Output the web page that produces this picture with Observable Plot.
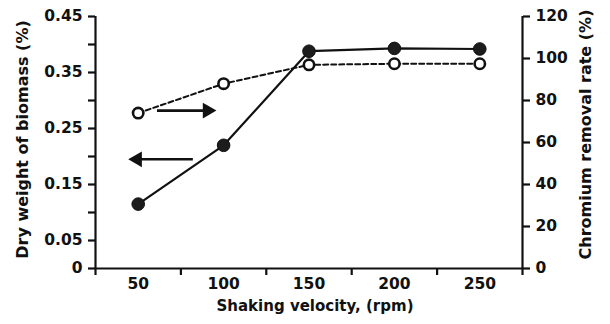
<!DOCTYPE html>
<html>
<head>
<meta charset="utf-8">
<script src="https://cdn.jsdelivr.net/npm/d3@7"></script>
<script src="https://cdn.jsdelivr.net/npm/@observablehq/plot@0.6"></script>
<style>
  html, body { margin: 0; padding: 0; background: #fff; }
</style>
</head>
<body>
<div id="chart"></div>
<script>
// Data
const rpm = [50, 100, 150, 200, 250];
const dryWeight = [0.115, 0.22, 0.388, 0.393, 0.392];      // left axis (%)
const removalRate = [74, 88, 97, 97.5, 97.5];               // right axis (%)

const xLabelTicks = [50, 100, 150, 200, 250];
const xMarkTicks = [25, 75, 125, 175, 225, 275];
const leftTicks = [0, 0.05, 0.1, 0.15, 0.2, 0.25, 0.3, 0.35, 0.4, 0.45];
const leftLabels = ["0", "0.05", "", "0.15", "", "0.25", "", "0.35", "", "0.45"];
const rightTicks = [0, 20, 40, 60, 80, 100, 120];

// Annotation arrows (data units: rpm, left-axis value)
const arrowRight = {x1: 61, x2: 90, head: 90.5, y: 0.282};
const arrowLeft = {x1: 82, x2: 49, head: 49.5, y: 0.195};

const k = 0.45 / 120; // right-axis value -> left-axis scale
const rows = rpm.map((r, i) => ({rpm: r, dry: dryWeight[i], rate: removalRate[i] * k}));
const leftLabelMap = new Map(leftTicks.map((t, i) => [t, leftLabels[i]]));

const font = "'DejaVu Sans', sans-serif";

const chart = Plot.plot({
  width: 610,
  height: 324,
  marginLeft: 95,
  marginRight: 88,
  marginTop: 16,
  marginBottom: 56,
  style: {fontFamily: font, fontWeight: "bold", fontSize: "15.5px", color: "#111", background: "#fff"},
  x: {domain: [25, 275], axis: null},
  y: {domain: [0, 0.45], axis: null},
  marks: [
    // axis lines
    Plot.ruleX([25], {y1: 0, y2: 0.45, stroke: "#111", strokeWidth: 2.2}),
    Plot.ruleX([275], {y1: 0, y2: 0.45, stroke: "#111", strokeWidth: 2.2}),
    Plot.ruleY([0], {stroke: "#111", strokeWidth: 2.2}),
    // x ticks and labels
    Plot.axisX({ticks: xMarkTicks, tickSize: 7, tickFormat: () => "", strokeWidth: 2.2, stroke: "#111"}),
    Plot.axisX({ticks: xLabelTicks, tickSize: 0, tickPadding: 9, tickFormat: d => String(d), fill: "#111"}),
    // left y axis
    Plot.axisY({ticks: leftTicks, tickSize: 7, tickPadding: 6, strokeWidth: 2.2, stroke: "#111", fill: "#111",
      tickFormat: d => leftLabelMap.get(d)}),
    // right y axis
    Plot.axisY({anchor: "right", ticks: rightTicks.map(v => v * k), tickSize: 7, tickPadding: 6,
      strokeWidth: 2.2, stroke: "#111", fill: "#111", tickFormat: d => String(Math.round(d / k))}),
    // axis titles
    Plot.text(["Dry weight of biomass (%)"], {frameAnchor: "left", textAnchor: "middle", rotate: -90, dx: -73, dy: -3, fontSize: 16, fill: "#111"}),
    Plot.text(["Chromium removal rate (%)"], {frameAnchor: "right", textAnchor: "middle", rotate: -90, dx: 63, dy: -8, fontSize: 16, fill: "#111"}),
    Plot.text(["Shaking velocity, (rpm)"], {frameAnchor: "bottom", textAnchor: "middle", dy: 42, dx: 6, fontSize: 15, fill: "#111"}),
    // dry weight series (solid, filled dots)
    Plot.line(rows, {x: "rpm", y: "dry", stroke: "#111", strokeWidth: 2.2}),
    Plot.dot(rows, {x: "rpm", y: "dry", r: 6.3, fill: "#1c1c1c", stroke: "#111", strokeWidth: 1}),
    // removal rate series (dashed, open dots)
    Plot.line(rows, {x: "rpm", y: "rate", stroke: "#111", strokeWidth: 2, strokeDasharray: "5,3"}),
    Plot.dot(rows, {x: "rpm", y: "rate", r: 5.2, fill: "#fff", stroke: "#111", strokeWidth: 2.6}),
    // arrows
    Plot.link([arrowRight], {x1: "x1", x2: "x2", y1: "y", y2: "y", stroke: "#111", strokeWidth: 2.6}),
    Plot.dot([arrowRight], {x: "head", y: "y", symbol: "triangle2", rotate: 90, r: 7.5, fill: "#111"}),
    Plot.link([arrowLeft], {x1: "x1", x2: "x2", y1: "y", y2: "y", stroke: "#111", strokeWidth: 2.6}),
    Plot.dot([arrowLeft], {x: "head", y: "y", symbol: "triangle2", rotate: -90, r: 7.5, fill: "#111"})
  ]
});
document.getElementById("chart").appendChild(chart);
</script>
</body>
</html>
